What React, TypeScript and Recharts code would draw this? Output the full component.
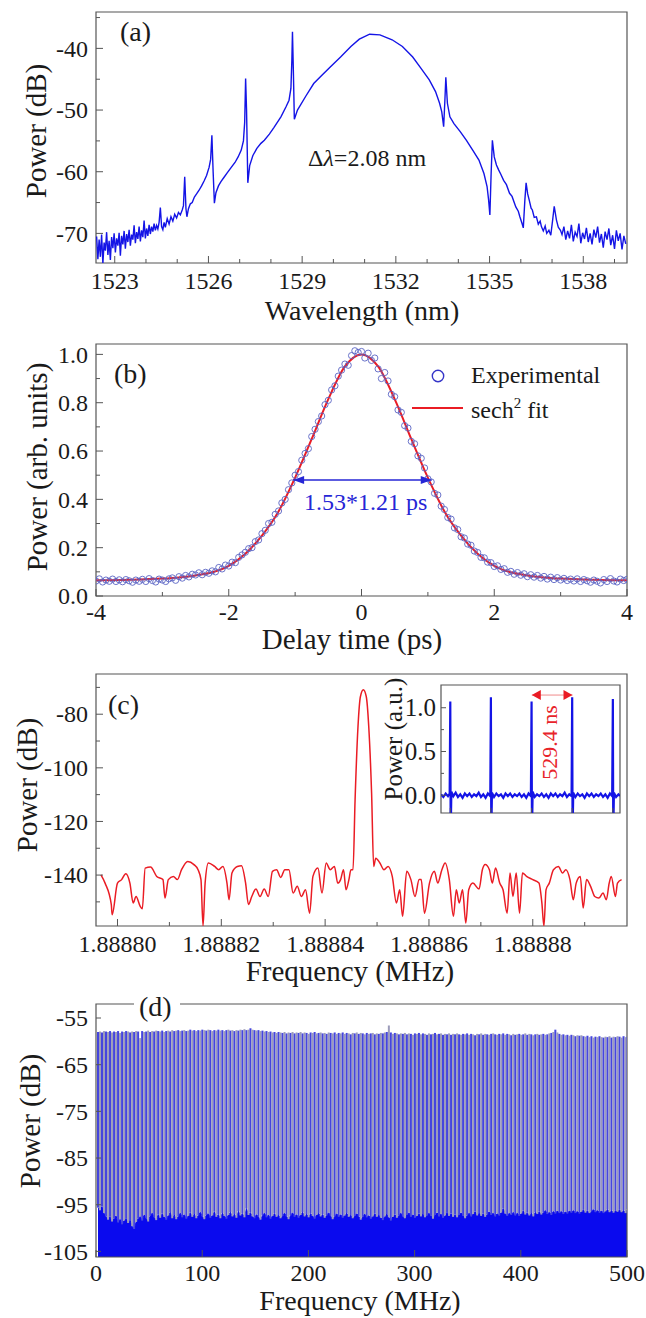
import React from 'react';
import {
  ComposedChart,
  LineChart,
  Line,
  Scatter,
  Bar,
  Area,
  Cell,
  XAxis,
  YAxis,
  Label,
  Legend,
  ReferenceArea,
  ReferenceLine,
  ReferenceDot,
} from 'recharts';

const SERIF = '"Liberation Serif", "Times New Roman", Times, serif';
const INK = '#1a1a1a';
const FRAME = '#555';
const BLUE = '#1414e6';
const RED = '#ea1c24';

// ---------- (a) optical spectrum [wavelength nm, power dB]
const spectrumA: [number, number][] = [
  [1522.42, -70.5], [1522.46, -74.2], [1522.5, -71.0], [1522.54, -73.8], [1522.58, -70.2], [1522.62, -74.9],
  [1522.66, -71.5], [1522.7, -72.8], [1522.74, -69.8], [1522.78, -73.5], [1522.82, -71.2], [1522.86, -74.3],
  [1522.9, -70.6], [1522.94, -72.4], [1522.98, -70.0], [1523.02, -73.1], [1523.06, -70.8], [1523.1, -72.0],
  [1523.14, -69.9], [1523.18, -73.6], [1523.22, -70.4], [1523.26, -71.8], [1523.3, -69.6], [1523.34, -72.5],
  [1523.38, -70.1], [1523.42, -71.4], [1523.46, -69.4], [1523.5, -72.0], [1523.54, -70.2], [1523.58, -71.0],
  [1523.62, -68.7], [1523.66, -71.6], [1523.7, -69.8], [1523.74, -70.9], [1523.78, -68.9], [1523.82, -71.3],
  [1523.86, -69.5], [1523.9, -70.6], [1523.94, -67.9], [1523.98, -70.8], [1524.02, -69.2], [1524.06, -70.4],
  [1524.1, -68.6], [1524.14, -70.1], [1524.18, -68.9], [1524.22, -69.7], [1524.26, -68.4], [1524.3, -69.5],
  [1524.34, -68.7], [1524.38, -69.3], [1524.42, -68.2], [1524.46, -65.8], [1524.5, -68.9], [1524.54, -69.4],
  [1524.58, -68.2], [1524.62, -69.0], [1524.68, -67.6], [1524.74, -68.5], [1524.8, -67.3], [1524.86, -68.0],
  [1524.92, -66.9], [1524.98, -67.5], [1525.04, -66.6], [1525.1, -67.0], [1525.16, -66.2], [1525.2, -65.5],
  [1525.24, -60.8], [1525.28, -66.0], [1525.31, -67.3], [1525.36, -66.0], [1525.42, -65.2], [1525.48, -65.0],
  [1525.55, -64.1], [1525.62, -63.6], [1525.7, -63.0], [1525.78, -62.3], [1525.86, -61.5], [1525.94, -60.6],
  [1526.02, -59.3], [1526.07, -58.0], [1526.11, -54.1], [1526.15, -60.0], [1526.19, -65.1], [1526.24, -63.4],
  [1526.32, -62.3], [1526.4, -61.6], [1526.5, -60.9], [1526.6, -60.2], [1526.73, -59.3], [1526.85, -58.5],
  [1526.95, -57.6], [1527.05, -56.5], [1527.12, -55.0], [1527.16, -52.0], [1527.19, -44.9], [1527.22, -50.0],
  [1527.26, -61.8], [1527.32, -59.0], [1527.42, -57.4], [1527.55, -56.2], [1527.68, -55.4], [1527.79, -54.9],
  [1527.95, -53.9], [1528.1, -52.8], [1528.32, -51.1], [1528.48, -49.5], [1528.58, -48.4], [1528.64, -46.5],
  [1528.67, -42.0], [1528.69, -37.3], [1528.72, -44.0], [1528.75, -51.5], [1528.85, -50.0], [1529.11, -47.8],
  [1529.37, -45.7], [1529.64, -44.3], [1529.9, -43.0], [1530.23, -41.4], [1530.56, -39.7], [1530.83, -38.5],
  [1531.16, -37.7], [1531.49, -37.8], [1531.88, -38.6], [1532.21, -39.7], [1532.54, -41.4], [1532.8, -43.2],
  [1533.07, -45.1], [1533.27, -47.0], [1533.4, -48.9], [1533.47, -50.3], [1533.53, -52.7], [1533.57, -48.4],
  [1533.6, -44.7], [1533.65, -48.9], [1533.73, -51.1], [1533.86, -52.2], [1534.06, -53.5], [1534.26, -54.9],
  [1534.46, -56.5], [1534.66, -58.1], [1534.82, -60.3], [1534.92, -62.4], [1534.97, -64.6], [1535.01, -67.0],
  [1535.05, -60.3], [1535.09, -54.9], [1535.15, -57.6], [1535.22, -58.9], [1535.29, -59.7], [1535.36, -60.4],
  [1535.45, -61.4], [1535.54, -62.1], [1535.64, -63.5], [1535.72, -64.0], [1535.84, -65.7], [1535.92, -66.4],
  [1535.97, -67.3], [1536.04, -68.4], [1536.08, -69.1], [1536.13, -64.6], [1536.17, -61.8], [1536.22, -63.6],
  [1536.27, -64.6], [1536.33, -65.9], [1536.37, -66.2], [1536.43, -67.4], [1536.5, -67.3], [1536.56, -68.5],
  [1536.62, -68.0], [1536.66, -68.9], [1536.72, -69.6], [1536.78, -68.8], [1536.83, -70.0], [1536.9, -69.5],
  [1536.96, -70.3], [1537.02, -67.8], [1537.07, -65.6], [1537.14, -67.8], [1537.2, -69.0], [1537.27, -69.5],
  [1537.32, -70.2], [1537.38, -68.9], [1537.44, -71.0], [1537.5, -69.6], [1537.56, -70.8], [1537.62, -68.6],
  [1537.68, -71.3], [1537.74, -69.8], [1537.8, -70.5], [1537.86, -68.4], [1537.92, -71.6], [1537.98, -69.9],
  [1538.04, -70.9], [1538.1, -69.1], [1538.16, -71.4], [1538.22, -70.0], [1538.28, -71.8], [1538.34, -69.4],
  [1538.4, -70.7], [1538.46, -68.9], [1538.52, -71.5], [1538.58, -70.1], [1538.64, -72.3], [1538.7, -69.7],
  [1538.76, -71.0], [1538.82, -69.2], [1538.88, -71.9], [1538.94, -70.3], [1539.0, -72.5], [1539.06, -69.5],
  [1539.12, -71.2], [1539.18, -70.0], [1539.24, -72.6], [1539.3, -70.4], [1539.36, -71.7],
];
const aDomX: [number, number] = [1522.4, 1539.4];
const aDomY: [number, number] = [-74.8, -34.1];
const aXTicks = [1523, 1524, 1525, 1526, 1527, 1528, 1529, 1530, 1531, 1532, 1533, 1534, 1535, 1536, 1537, 1538, 1539];
const aXMajor = [1523, 1526, 1529, 1532, 1535, 1538];
const aYTicks = [-35, -40, -45, -50, -55, -60, -65, -70];
const aYMajor = [-40, -50, -60, -70];

// ---------- (b) autocorrelation [delay ps, power]
const autocorrExp: [number, number][] = [
  [-4, 0.062], [-3.95, 0.071], [-3.9, 0.058], [-3.85, 0.066], [-3.8, 0.061], [-3.75, 0.07], [-3.7, 0.06],
  [-3.65, 0.067], [-3.6, 0.059], [-3.55, 0.068], [-3.5, 0.063], [-3.45, 0.057], [-3.4, 0.066], [-3.35, 0.061],
  [-3.3, 0.069], [-3.25, 0.06], [-3.2, 0.072], [-3.15, 0.064], [-3.1, 0.058], [-3.05, 0.07], [-3, 0.066],
  [-2.95, 0.06], [-2.9, 0.071], [-2.85, 0.075], [-2.8, 0.065], [-2.75, 0.08], [-2.7, 0.074], [-2.65, 0.085],
  [-2.6, 0.079], [-2.55, 0.09], [-2.5, 0.087], [-2.45, 0.096], [-2.4, 0.088], [-2.35, 0.098], [-2.3, 0.094],
  [-2.25, 0.104], [-2.2, 0.1], [-2.15, 0.118], [-2.1, 0.112], [-2.05, 0.128], [-2, 0.124], [-1.95, 0.14],
  [-1.9, 0.138], [-1.85, 0.16], [-1.8, 0.17], [-1.75, 0.181], [-1.7, 0.196], [-1.65, 0.2], [-1.6, 0.225],
  [-1.55, 0.232], [-1.5, 0.258], [-1.45, 0.272], [-1.4, 0.3], [-1.35, 0.305], [-1.3, 0.338], [-1.25, 0.352],
  [-1.2, 0.385], [-1.15, 0.4], [-1.1, 0.44], [-1.05, 0.468], [-1, 0.5], [-0.95, 0.515], [-0.9, 0.562],
  [-0.85, 0.59], [-0.8, 0.61], [-0.75, 0.66], [-0.7, 0.69], [-0.65, 0.722], [-0.6, 0.745], [-0.55, 0.792],
  [-0.5, 0.81], [-0.45, 0.853], [-0.4, 0.87], [-0.35, 0.91], [-0.3, 0.935], [-0.25, 0.96], [-0.2, 0.955],
  [-0.15, 0.995], [-0.1, 1.015], [-0.05, 1.008], [0, 1.012], [0.05, 0.985], [0.1, 1.005], [0.15, 0.975],
  [0.2, 0.985], [0.25, 0.94], [0.3, 0.9], [0.35, 0.925], [0.4, 0.89], [0.45, 0.835], [0.5, 0.825],
  [0.55, 0.77], [0.6, 0.76], [0.65, 0.705], [0.7, 0.695], [0.75, 0.64], [0.8, 0.63], [0.85, 0.58], [0.9, 0.57],
  [0.95, 0.53], [1, 0.485], [1.05, 0.472], [1.1, 0.425], [1.15, 0.418], [1.2, 0.372], [1.25, 0.358],
  [1.3, 0.325], [1.35, 0.318], [1.4, 0.282], [1.45, 0.275], [1.5, 0.245], [1.55, 0.24], [1.6, 0.215],
  [1.65, 0.21], [1.7, 0.186], [1.75, 0.18], [1.8, 0.16], [1.85, 0.158], [1.9, 0.14], [1.95, 0.138], [2, 0.122],
  [2.05, 0.125], [2.1, 0.11], [2.15, 0.113], [2.2, 0.098], [2.25, 0.102], [2.3, 0.09], [2.35, 0.097],
  [2.4, 0.086], [2.45, 0.092], [2.5, 0.08], [2.55, 0.088], [2.6, 0.078], [2.65, 0.085], [2.7, 0.074],
  [2.75, 0.081], [2.8, 0.07], [2.85, 0.078], [2.9, 0.068], [2.95, 0.076], [3, 0.066], [3.05, 0.073],
  [3.1, 0.064], [3.15, 0.07], [3.2, 0.062], [3.25, 0.071], [3.3, 0.06], [3.35, 0.068], [3.4, 0.063],
  [3.45, 0.057], [3.5, 0.066], [3.55, 0.061], [3.6, 0.054], [3.65, 0.068], [3.7, 0.06], [3.75, 0.072],
  [3.8, 0.062], [3.85, 0.058], [3.9, 0.07], [3.95, 0.064], [4, 0.069],
];
const autocorrFit: [number, number][] = [
  [-4, 0.065], [-3.5, 0.067], [-3, 0.072], [-2.75, 0.077], [-2.5, 0.085], [-2.25, 0.098], [-2, 0.125],
  [-1.75, 0.175], [-1.5, 0.25], [-1.25, 0.35], [-1, 0.49], [-0.75, 0.65], [-0.5, 0.815], [-0.25, 0.95], [0, 1],
  [0.25, 0.95], [0.5, 0.815], [0.75, 0.65], [1, 0.49], [1.25, 0.35], [1.5, 0.25], [1.75, 0.175], [2, 0.125],
  [2.25, 0.098], [2.5, 0.085], [2.75, 0.077], [3, 0.072], [3.5, 0.067], [4, 0.065],
];
const bDomX: [number, number] = [-4, 4];
const bDomY: [number, number] = [0, 1.043];
const bXTicks = [-4, -3, -2, -1, 0, 1, 2, 3, 4];
const bXMajor = [-4, -2, 0, 2, 4];
const bYTicks = [0, 0.1, 0.2, 0.3, 0.4, 0.5, 0.6, 0.7, 0.8, 0.9, 1.0];
const bYMajor = [0, 0.2, 0.4, 0.6, 0.8, 1.0];
const fwhmArrow = { from: -1.03, to: 1.058, level: 0.48 };

// ---------- (c) RF spectrum, offset from 1.8888 MHz in Hz [Hz, dB]
const rfFundamental: [number, number][] = [
  [-3.18, -139.9], [-2.39, -143], [-1.19, -151], [-1.03, -154.8], [0, -143], [0.8, -141.7], [1.59, -139.5],
  [2.39, -143], [3.02, -150.4], [3.58, -148], [4.38, -151.7], [4.78, -152.6], [5.33, -137.4], [6.37, -137],
  [7.56, -140.5], [8.76, -141.7], [9.15, -148.6], [9.79, -141.7], [10.75, -140.5], [11.54, -141.7],
  [12.34, -138], [13.53, -134.9], [14.73, -136.1], [15.52, -138], [16.08, -141.7], [16.48, -159],
  [16.88, -143], [17.51, -135.5], [18.71, -136.8], [19.5, -138], [20.3, -136.8], [21.09, -143], [21.49, -149.2],
  [22.05, -139.2], [23.08, -136.8], [23.88, -136.5], [24.68, -143], [25.23, -151], [25.87, -148],
  [26.67, -145.2], [27.46, -148], [28.26, -145.2], [29.05, -148], [29.85, -138.6], [30.65, -138],
  [31.44, -140.9], [32.24, -138], [33.03, -138], [33.83, -146.7], [34.63, -144.2], [35.42, -148],
  [36.22, -145.5], [37.01, -154.2], [37.65, -140.5], [38.61, -137.4], [39.4, -146.7], [40.2, -135.5],
  [40.99, -138], [41.79, -136.8], [42.43, -143], [42.98, -141.7], [43.54, -138], [44.02, -145.5],
  [44.58, -141.7], [44.97, -138], [45.37, -138], [45.77, -111.9], [46.33, -84.6], [46.8, -73.4],
  [47.36, -70.9], [47.92, -73.4], [48.4, -84.6], [48.95, -109.4], [49.35, -136.8], [49.75, -133.7],
  [50.55, -135.5], [51.34, -138], [52.14, -136.8], [52.93, -140.5], [53.73, -150.4], [54.37, -145.5],
  [54.92, -155.4], [55.72, -138.6], [56.52, -141.7], [57.31, -148], [58.11, -141.7], [58.51, -141.7],
  [59.14, -154.2], [60.1, -143], [61.05, -138.6], [61.69, -143], [62.49, -138], [63.12, -135.5],
  [63.92, -141.7], [64.71, -155.4], [65.27, -145.5], [65.83, -150.4], [66.47, -145.5], [67.1, -157.9],
  [67.66, -145.5], [68.46, -143], [69.65, -145.2], [70.29, -138], [70.84, -136.1], [71.64, -138], [72.2, -143],
  [72.83, -137.4], [73.63, -143], [74.27, -145.5], [75.06, -154.2], [75.62, -139.2], [76.18, -148],
  [76.81, -139.2], [77.45, -154.2], [78.01, -139.2], [78.8, -140.5], [80, -141.7], [81.19, -143],
  [81.75, -150.4], [82.15, -159], [82.55, -145.5], [83.18, -143], [83.98, -138], [84.93, -136.8],
  [85.73, -139.2], [86.37, -138], [87.16, -141.7], [87.8, -149.2], [88.36, -143], [89.15, -140.5],
  [89.71, -152.3], [90.35, -141.7], [91.14, -144.2], [91.94, -148], [92.73, -148.6], [93.53, -146.7],
  [94.17, -149.2], [94.72, -143], [95.12, -140.5], [95.92, -148], [96.32, -143], [97.11, -141.7],
];
const cCenterMHz = 1.8888;
const cDomX: [number, number] = [-4.14, 98.15];
const cDomY: [number, number] = [-159, -65];
const cXTicks = [0, 10, 20, 30, 40, 50, 60, 70, 80, 90];
const cXMajor = [0, 20, 40, 60, 80];
const cYTicks = [-70, -80, -90, -100, -110, -120, -130, -140, -150];
const cYMajor = [-80, -100, -120, -140];

// (c) inset: pulse train [time ns, power a.u.]
const pulseTrain: [number, number][] = [
  [-120, 0.01], [-90, -0.02], [-60, 0.02], [-30, -0.01], [-8, 0.02], [0, 1.07], [5, -0.45], [14, 0.04],
  [40, -0.01], [70, 0.03], [100, -0.02], [130, 0.01], [160, -0.03], [190, 0.02], [220, -0.01], [250, 0.02],
  [280, -0.02], [310, 0.01], [340, -0.01], [370, 0.03], [400, -0.02], [430, 0.01], [460, -0.03], [490, 0.02],
  [521, -0.01], [529, 1.12], [534, -0.45], [543, 0.03], [570, -0.02], [600, 0.02], [630, -0.01], [660, 0.01],
  [690, -0.03], [720, 0.02], [750, -0.01], [780, 0.02], [810, -0.02], [840, 0.01], [870, -0.01], [900, 0.02],
  [930, -0.02], [960, 0.01], [990, -0.03], [1020, 0.02], [1050, -0.01], [1059, 1.07], [1064, -0.45],
  [1073, 0.04], [1100, -0.02], [1130, 0.01], [1160, -0.01], [1190, 0.02], [1220, -0.02], [1250, 0.01],
  [1280, -0.03], [1310, 0.02], [1340, -0.01], [1370, 0.02], [1400, -0.02], [1430, 0.01], [1460, -0.01],
  [1490, 0.03], [1520, -0.02], [1550, 0.01], [1580, -0.01], [1588, 1.12], [1593, -0.45], [1602, 0.03],
  [1630, -0.02], [1660, 0.02], [1690, -0.01], [1720, 0.01], [1750, -0.03], [1780, 0.02], [1810, -0.01],
  [1840, 0.02], [1870, -0.02], [1900, 0.01], [1930, -0.01], [1960, 0.02], [1990, -0.02], [2020, 0.01],
  [2050, -0.03], [2080, 0.02], [2109, -0.01], [2118, 1.1], [2123, -0.45], [2132, 0.03], [2160, -0.02],
  [2190, 0.01], [2210, -0.01],
];
const pulseTimes = [0, 529, 1059, 1588, 2118];
const insetDomX: [number, number] = [-121, 2211];
const insetDomY: [number, number] = [-0.203, 1.26];
const insetYTicks = [0, 0.25, 0.5, 0.75, 1.0];
const insetYMajor = [0, 0.5, 1.0];
const periodArrow = { from: 1062, to: 1592, level: 1.145 };

// ---------- (d) wide-span comb: line spacing = repetition rate from (c); peak and noise floor per line (dB)
const combSpacingMHz = 1.8888;
const combPeak = [
  -58.0, -57.9, -58.1, -57.8, -57.9, -58.0, -57.8, -58.1, -57.9, -58.0,
  -57.8, -58.2, -57.9, -58.0, -57.8, -57.9, -58.1, -57.9, -58.0, -57.8,
  -57.9, -59.3, -57.8, -58.0, -57.9, -57.7, -58.0, -57.8, -57.9, -57.7,
  -57.8, -57.9, -57.7, -58.0, -57.8, -57.7, -57.9, -57.6, -57.8, -57.7,
  -57.6, -57.8, -57.7, -57.6, -57.8, -57.7, -57.5, -57.7, -57.6, -57.8,
  -57.6, -57.7, -57.5, -57.6, -57.7, -57.5, -57.6, -57.8, -57.6, -57.7,
  -57.5, -57.7, -57.6, -57.8, -57.6, -57.5, -57.7, -57.6, -57.8, -57.6,
  -57.7, -57.5, -57.6, -57.4, -57.6, -57.5, -57.2, -57.5, -57.6, -57.7,
  -57.6, -57.8, -57.7, -57.9, -57.8, -58.0, -57.9, -58.1, -58.0, -58.2,
  -58.0, -58.1, -58.2, -58.0, -58.3, -58.1, -58.2, -58.0, -58.3, -58.1,
  -58.2, -58.0, -58.3, -58.1, -58.2, -58.4, -58.1, -58.2, -58.0, -58.3,
  -58.2, -58.1, -58.3, -58.2, -58.4, -58.1, -58.2, -58.3, -58.1, -58.4,
  -58.2, -58.3, -58.1, -58.4, -58.2, -58.3, -58.5, -58.2, -58.3, -58.1,
  -58.4, -58.2, -58.3, -58.5, -58.2, -58.4, -58.3, -58.2, -58.5, -58.3,
  -58.4, -58.2, -58.3, -58.1, -58.0, -56.6, -58.1, -58.4, -58.2, -58.3,
  -58.5, -58.3, -58.4, -58.2, -58.5, -58.3, -58.4, -58.6, -58.3, -58.4,
  -58.2, -58.5, -58.3, -58.4, -58.6, -58.3, -58.5, -58.4, -58.2, -58.5,
  -58.4, -58.3, -58.6, -58.4, -58.5, -58.3, -58.6, -58.4, -58.5, -58.3,
  -58.5, -58.6, -58.4, -58.5, -58.3, -58.6, -58.4, -58.5, -58.7, -58.4,
  -58.5, -58.3, -58.6, -58.4, -58.5, -58.6, -58.4, -58.3, -58.5, -58.6,
  -58.4, -58.5, -58.3, -58.6, -58.4, -58.5, -58.7, -58.4, -58.6, -58.5,
  -58.4, -58.6, -58.5, -58.3, -58.6, -58.4, -58.5, -58.7, -58.5, -58.4,
  -58.6, -58.5, -58.4, -58.6, -58.5, -58.3, -58.2, -58.0, -57.5, -58.1,
  -58.4, -58.6, -58.5, -58.7, -58.6, -58.8, -58.6, -58.7, -58.9, -58.7,
  -58.8, -58.7, -58.9, -59.0, -58.8, -59.1, -58.9, -59.2, -59.0, -59.1,
  -58.9, -59.1, -59.2, -59.0, -59.1, -58.9, -59.2, -59.0, -59.1, -58.9,
  -59.0, -59.2, -58.9, -59.1, -59.0,
];
const noiseFloor = [
  -95.6, -96.2, -95.4, -96.8, -97.5, -98.2, -97.6, -98.6, -98.0, -97.4,
  -98.8, -98.1, -99.2, -98.4, -97.9, -98.9, -98.3, -99.6, -100.2, -98.7,
  -98.0, -97.5, -98.4, -97.2, -97.9, -98.6, -97.4, -96.8, -97.7, -98.3,
  -97.1, -97.8, -96.9, -97.6, -98.2, -97.3, -96.6, -97.9, -97.2, -98.1,
  -97.5, -96.8, -97.7, -97.1, -98.0, -97.4, -96.7, -97.6, -97.0, -97.9,
  -97.3, -96.6, -97.5, -98.1, -97.2, -96.9, -97.8, -97.3, -96.5, -97.6,
  -97.1, -97.9, -96.8, -97.4, -98.0, -97.2, -96.6, -97.5, -97.0, -97.8,
  -96.4, -97.3, -96.9, -97.7, -95.8, -97.2, -96.7, -97.5, -97.9, -97.1,
  -97.6, -98.2, -97.3, -96.8, -97.7, -97.2, -98.0, -97.4, -96.9, -97.6,
  -97.2, -97.9, -97.4, -96.8, -97.5, -98.1, -97.3, -96.7, -97.6, -97.1,
  -97.8, -97.2, -96.6, -97.5, -97.0, -97.7, -96.9, -97.4, -98.0, -97.2,
  -96.8, -97.5, -97.1, -97.8, -97.3, -96.7, -97.4, -98.1, -97.5, -96.9,
  -97.6, -97.1, -97.8, -97.3, -96.8, -97.6, -97.2, -97.9, -97.4, -96.9,
  -97.5, -98.2, -97.6, -97.0, -97.7, -97.3, -98.0, -97.5, -96.9, -97.6,
  -97.2, -97.8, -98.3, -97.5, -97.0, -97.7, -98.4, -97.6, -97.1, -97.8,
  -97.3, -96.8, -97.5, -97.9, -97.2, -96.7, -97.6, -97.1, -97.8, -97.4,
  -96.9, -97.5, -97.0, -97.7, -97.3, -96.8, -97.4, -98.0, -97.2, -96.7,
  -97.5, -97.0, -97.8, -97.3, -96.6, -97.4, -96.9, -97.6, -97.1, -97.7,
  -97.2, -96.7, -97.4, -97.9, -97.3, -96.8, -97.5, -97.0, -96.5, -97.3,
  -96.8, -97.4, -96.9, -97.6, -97.1, -96.5, -97.2, -96.8, -97.5, -96.9,
  -97.3, -96.7, -95.8, -96.9, -97.4, -96.8, -97.2, -96.6, -97.3, -96.8,
  -97.4, -96.9, -96.3, -97.1, -96.7, -97.3, -96.8, -97.5, -96.6, -97.0,
  -96.5, -97.1, -96.7, -96.2, -97.0, -96.6, -97.2, -96.4, -96.9, -96.3,
  -96.8, -96.4, -97.0, -96.5, -96.9, -96.3, -96.7, -96.2, -96.8, -96.4,
  -96.9, -96.5, -96.1, -96.7, -96.3, -96.8, -96.4, -96.0, -96.6, -96.2,
  -96.7, -96.3, -96.8, -96.4, -96.0, -96.6, -96.2, -96.7, -96.3, -96.5,
  -96.1, -96.6, -96.2, -96.8, -95.9,
];
const dDomX: [number, number] = [0, 500];
const dDomY: [number, number] = [-106.2, -52];
const dXTicks = [0, 100, 200, 300, 400, 500];
const dYTicks = [-55, -65, -75, -85, -95, -105];

// ---------- helpers
type TickOpts = {
  major: number[];
  fmt?: (v: number) => string;
  size?: number;
  gap?: number;
  len?: number;
  minorLen?: number;
  labels?: boolean;
};
const isMajor = (list: number[], v: number) => list.some((m) => Math.abs(m - v) < 1e-9);

const bottomTick = (o: TickOpts) => (props: any) => {
  const { x, y, payload } = props;
  const v = payload.value as number;
  const maj = isMajor(o.major, v);
  return (
    <g>
      <line x1={x} x2={x} y1={y} y2={y - (maj ? o.len ?? 7 : o.minorLen ?? 4)} stroke={FRAME} strokeWidth={1} />
      {maj && o.labels !== false && (
        <text x={x} y={y + (o.gap ?? 26)} textAnchor="middle" fontFamily={SERIF} fontSize={o.size ?? 24} fill={INK}>
          {o.fmt ? o.fmt(v) : String(v)}
        </text>
      )}
    </g>
  );
};

const leftTick = (o: TickOpts) => (props: any) => {
  const { x, y, payload } = props;
  const v = payload.value as number;
  const maj = isMajor(o.major, v);
  const size = o.size ?? 24;
  return (
    <g>
      <line x1={x} x2={x + (maj ? o.len ?? 7 : o.minorLen ?? 4)} y1={y} y2={y} stroke={FRAME} strokeWidth={1} />
      {maj && (
        <text x={x - (o.gap ?? 8)} y={y + size * 0.34} textAnchor="end" fontFamily={SERIF} fontSize={size} fill={INK}>
          {o.fmt ? o.fmt(v) : String(v)}
        </text>
      )}
    </g>
  );
};

const xTitle = (text: string, x: number, y: number, size = 29) => (
  <Label
    content={() => (
      <text x={x} y={y} textAnchor="middle" fontFamily={SERIF} fontSize={size} fill={INK}>
        {text}
      </text>
    )}
  />
);
const yTitle = (text: string, x: number, y: number, size = 29) => (
  <Label
    content={() => (
      <text
        x={x}
        y={y}
        transform={`rotate(-90 ${x} ${y})`}
        textAnchor="middle"
        dominantBaseline="central"
        fontFamily={SERIF}
        fontSize={size}
        fill={INK}
      >
        {text}
      </text>
    )}
  />
);

const arrowHead = (dir: 1 | -1, color: string, len = 11, half = 4) => (p: any) => (
  <polygon
    points={`${p.cx},${p.cy} ${p.cx + dir * len},${p.cy - half} ${p.cx + dir * len},${p.cy + half}`}
    fill={color}
  />
);

const frame = (dx: [number, number], dy: [number, number]) => (
  <ReferenceArea
    x1={dx[0]}
    x2={dx[1]}
    y1={dy[0]}
    y2={dy[1]}
    fill="none"
    stroke={FRAME}
    strokeWidth={1.2}
    ifOverflow="visible"
  />
);

const axisCommon = { tickSize: 0, tickMargin: 0, tickLine: false, axisLine: false, interval: 0 as const, allowDataOverflow: true };

// ---------- panels
function PanelA() {
  const data = spectrumA.map(([x, y]) => ({ x, y }));
  return (
    <LineChart width={646} height={330} data={data} margin={{ top: 12, right: 19, left: 0, bottom: 0 }}>
      <XAxis
        dataKey="x"
        type="number"
        domain={aDomX}
        ticks={aXTicks}
        height={67}
        {...axisCommon}
        tick={bottomTick({ major: aXMajor, gap: 26 })}
      >
        {xTitle('Wavelength (nm)', 362, 320, 28)}
      </XAxis>
      <YAxis type="number" domain={aDomY} ticks={aYTicks} width={96} {...axisCommon} tick={leftTick({ major: aYMajor })}>
        {yTitle('Power (dB)', 36, 131)}
      </YAxis>
      {frame(aDomX, aDomY)}
      <Line dataKey="y" type="linear" stroke={BLUE} strokeWidth={1.4} dot={false} isAnimationActive={false} />
    </LineChart>
  );
}

const legendB = () => (
  <svg width={230} height={75}>
    <circle cx={38} cy={21} r={5.7} fill="none" stroke="#3535c8" strokeWidth={1.4} />
    <text x={71} y={28} fontFamily={SERIF} fontSize={24} fill={INK}>
      Experimental
    </text>
    <line x1={12} x2={63} y1={53} y2={53} stroke={RED} strokeWidth={2} />
    <text x={71} y={63} fontFamily={SERIF} fontSize={24} fill={INK}>
      sech
      <tspan dy={-10} fontSize={15}>
        2
      </tspan>
      <tspan dy={10}> fit</tspan>
    </text>
  </svg>
);

function PanelB() {
  const exp = autocorrExp.map(([x, y]) => ({ x, y }));
  const fit = autocorrFit.map(([x, y]) => ({ x, y }));
  return (
    <ComposedChart width={646} height={325} margin={{ top: 14, right: 19, left: 0, bottom: 0 }}>
      <XAxis
        dataKey="x"
        type="number"
        domain={bDomX}
        ticks={bXTicks}
        height={59}
        {...axisCommon}
        tick={bottomTick({ major: bXMajor, gap: 24 })}
      >
        {xTitle('Delay time (ps)', 352, 319)}
      </XAxis>
      <YAxis
        dataKey="y"
        type="number"
        domain={bDomY}
        ticks={bYTicks}
        width={96}
        {...axisCommon}
        tick={leftTick({ major: bYMajor, fmt: (v) => v.toFixed(1) })}
      >
        {yTitle('Power (arb. units)', 37, 137)}
      </YAxis>
      {frame(bDomX, bDomY)}
      <Scatter
        data={exp}
        isAnimationActive={false}
        shape={(p: any) => <circle cx={p.cx} cy={p.cy} r={3.1} fill="none" stroke="#5a64c4" strokeWidth={0.9} />}
      />
      <Line data={fit} dataKey="y" type="monotone" stroke={RED} strokeWidth={2} dot={false} isAnimationActive={false} />
      <ReferenceLine
        segment={[
          { x: fwhmArrow.from, y: fwhmArrow.level },
          { x: fwhmArrow.to, y: fwhmArrow.level },
        ]}
        stroke="#2626d6"
        strokeWidth={1.5}
        ifOverflow="visible"
      />
      <ReferenceDot x={fwhmArrow.from} y={fwhmArrow.level} ifOverflow="visible" shape={arrowHead(1, '#2626d6')} />
      <ReferenceDot x={fwhmArrow.to} y={fwhmArrow.level} ifOverflow="visible" shape={arrowHead(-1, '#2626d6')} />
      <Legend
        content={legendB}
        layout="horizontal"
        verticalAlign="middle"
        align="center"
        wrapperStyle={{ left: 400, top: 25, width: 230, height: 75 }}
      />
    </ComposedChart>
  );
}

function PanelC() {
  const data = rfFundamental.map(([x, y]) => ({ x, y }));
  return (
    <LineChart width={646} height={340} data={data} margin={{ top: 24, right: 19, left: 0, bottom: 0 }}>
      <XAxis
        dataKey="x"
        type="number"
        domain={cDomX}
        ticks={cXTicks}
        height={64}
        {...axisCommon}
        tick={bottomTick({ major: cXMajor, gap: 26, fmt: (v) => (cCenterMHz + v * 1e-6).toFixed(5) })}
      >
        {xTitle('Frequency (MHz)', 350, 331)}
      </XAxis>
      <YAxis type="number" domain={cDomY} ticks={cYTicks} width={96} {...axisCommon} tick={leftTick({ major: cYMajor })}>
        {yTitle('Power (dB)', 27, 135)}
      </YAxis>
      {frame(cDomX, cDomY)}
      <Line dataKey="y" type="monotone" stroke={RED} strokeWidth={1.5} dot={false} isAnimationActive={false} />
    </LineChart>
  );
}

function InsetC() {
  const data = pulseTrain.map(([x, y]) => ({ x, y }));
  return (
    <LineChart width={245} height={145} data={data} margin={{ top: 10, right: 5, left: 0, bottom: 0 }}>
      <XAxis
        dataKey="x"
        type="number"
        domain={insetDomX}
        ticks={pulseTimes}
        height={7}
        {...axisCommon}
        tick={bottomTick({ major: pulseTimes, labels: false, len: 5 })}
      />
      <YAxis
        type="number"
        domain={insetDomY}
        ticks={insetYTicks}
        width={61}
        {...axisCommon}
        tick={leftTick({ major: insetYMajor, size: 25, gap: 5, len: 5, minorLen: 3, fmt: (v) => v.toFixed(1) })}
      >
        {yTitle('Power (a.u.)', 13, 64, 25)}
      </YAxis>
      {frame(insetDomX, insetDomY)}
      <Line dataKey="y" type="linear" stroke={BLUE} strokeWidth={2.2} dot={false} isAnimationActive={false} />
      <ReferenceLine
        segment={[
          { x: periodArrow.from, y: periodArrow.level },
          { x: periodArrow.to, y: periodArrow.level },
        ]}
        stroke="#f08a8a"
        strokeWidth={1}
        ifOverflow="visible"
      />
      <ReferenceDot x={periodArrow.from} y={periodArrow.level} ifOverflow="visible" shape={arrowHead(1, RED, 9, 5)} />
      <ReferenceDot x={periodArrow.to} y={periodArrow.level} ifOverflow="visible" shape={arrowHead(-1, RED, 9, 5)} />
    </LineChart>
  );
}

function PanelD() {
  const table = combPeak.map((p, i) => ({
    f: (i + 1) * combSpacingMHz,
    peak: [noiseFloor[i], p],
    floor: [dDomY[0], noiseFloor[i]],
  }));
  return (
    <ComposedChart width={646} height={338} data={table} margin={{ top: 24, right: 19, left: 0, bottom: 0 }}>
      <XAxis
        dataKey="f"
        type="number"
        domain={dDomX}
        ticks={dXTicks}
        height={61}
        {...axisCommon}
        tick={bottomTick({ major: dXTicks, gap: 24 })}
      >
        {xTitle('Frequency (MHz)', 360, 330, 28)}
      </XAxis>
      <YAxis type="number" domain={dDomY} ticks={dYTicks} width={96} {...axisCommon} tick={leftTick({ major: dYTicks, len: 5 })}>
        {yTitle('Power (dB)', 30, 141)}
      </YAxis>
      <Area
        dataKey="floor"
        type="linear"
        stroke="#0a0aee"
        strokeWidth={1}
        fill="#0a0aee"
        fillOpacity={1}
        isAnimationActive={false}
      />
      <Bar dataKey="peak" barSize={2} isAnimationActive={false}>
        {table.map((_, i) => (
          <Cell key={i} fill={i % 2 === 0 ? '#4545de' : '#9c9cba'} />
        ))}
      </Bar>
      {frame(dDomX, dDomY)}
    </ComposedChart>
  );
}

export default function App() {
  return (
    <div style={{ position: 'absolute', left: 0, top: 0, width: 646, height: 1318, background: '#fff', overflow: 'hidden' }}>
      <div style={{ position: 'absolute', left: 0, top: 0 }}>
        <PanelA />
      </div>
      <div style={{ position: 'absolute', left: 0, top: 330 }}>
        <PanelB />
      </div>
      <div style={{ position: 'absolute', left: 0, top: 650 }}>
        <PanelC />
      </div>
      <div style={{ position: 'absolute', left: 380, top: 675 }}>
        <InsetC />
      </div>
      <div style={{ position: 'absolute', left: 0, top: 980 }}>
        <PanelD />
      </div>
      <svg
        width={646}
        height={1318}
        style={{ position: 'absolute', left: 0, top: 0, pointerEvents: 'none' }}
      >
        <g fontFamily={SERIF} fill={INK}>
          <text x={120} y={41} fontSize={28}>
            (a)
          </text>
          <text x={308} y={166} fontSize={24}>
            Δ<tspan fontStyle="italic">λ</tspan>=2.08 nm
          </text>
          <text x={114} y={383} fontSize={28}>
            (b)
          </text>
          <text x={304} y={510} fontSize={24} fill="#2626d6">
            1.53*1.21 ps
          </text>
          <text x={108} y={714} fontSize={28}>
            (c)
          </text>
          <text
            transform="translate(549 742.5) rotate(-90)"
            textAnchor="middle"
            dominantBaseline="central"
            fontSize={22}
            fill="#e8232a"
          >
            529.4 ns
          </text>
          <rect x={134} y={997} width={46} height={13} fill="#fff" />
          <text x={139} y={1016} fontSize={28}>
            (d)
          </text>
        </g>
      </svg>
    </div>
  );
}
